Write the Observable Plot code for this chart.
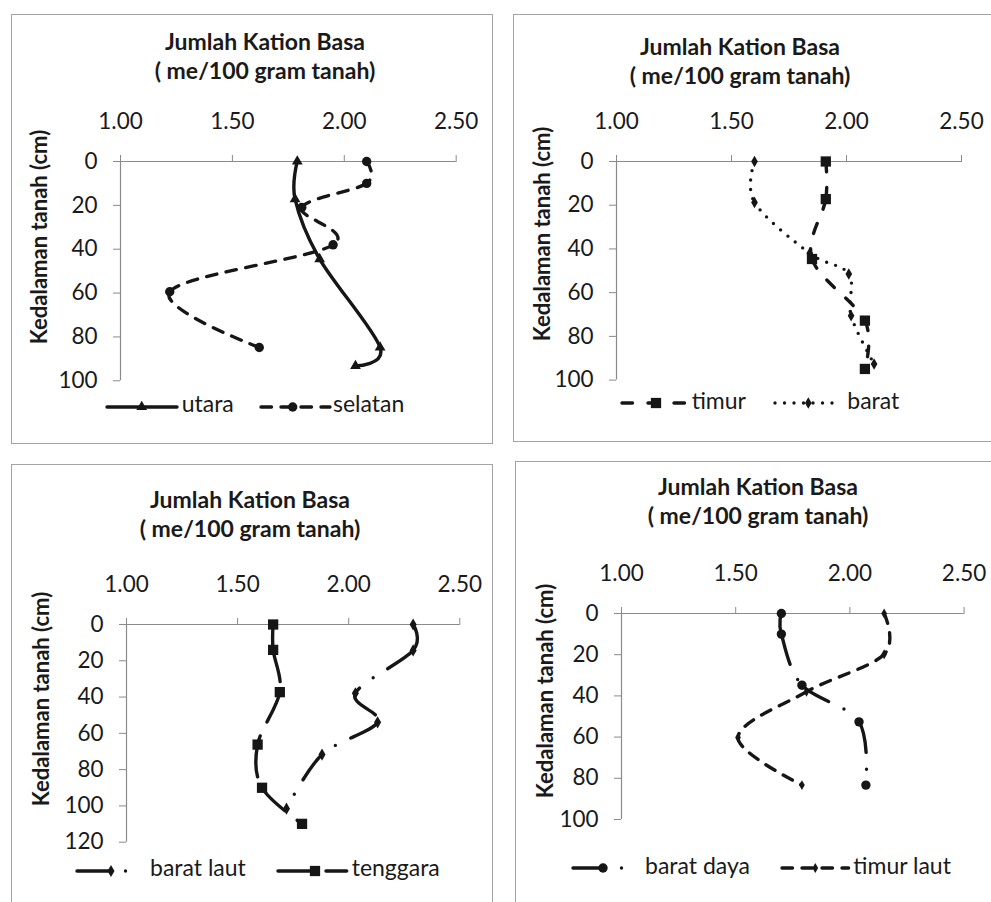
<!DOCTYPE html>
<html><head><meta charset="utf-8">
<script src="https://cdn.jsdelivr.net/npm/d3@7"></script>
<script src="https://cdn.jsdelivr.net/npm/@observablehq/plot@0.6"></script>
<style>
body{margin:0;background:#fff;font-family:Lato,"Open Sans",sans-serif;color:#1a1a1a;}
#page{position:relative;width:991px;height:902px;overflow:hidden;background:#fff;}
.frame{position:absolute;border:1.5px solid #a3a3a3;box-sizing:border-box;}
.title{position:absolute;font-weight:bold;font-size:23px;line-height:29px;white-space:nowrap;transform:translateX(-50%);}
.ylab{position:absolute;font-weight:bold;font-size:22px;line-height:22px;white-space:nowrap;transform:translate(-50%,-50%) rotate(-90deg);}
.ltext{position:absolute;font-size:23px;line-height:29px;white-space:nowrap;}
.abs{position:absolute;overflow:visible;}
</style></head>
<body><div id="page"></div>
<script>
// ---- data ----
const xTicks = [1.0, 1.5, 2.0, 2.5];
const yTicks100 = [0, 20, 40, 60, 80, 100];
const yTicks120 = [0, 20, 40, 60, 80, 100, 120];
const titleLine1 = "Jumlah Kation Basa";
const titleLine2 = "( me/100 gram tanah)";
const yLabel = "Kedalaman tanah (cm)";

const utaraDepth = [0, 17.2, 44.5, 84.8, 93.2];
const utaraValue = [1.79, 1.78, 1.89, 2.16, 2.05];
const selatanDepth = [0, 10, 21, 38, 59.4, 84.8];
const selatanValue = [2.10, 2.10, 1.81, 1.95, 1.22, 1.62];

const timurDepth = [0, 17.2, 44.6, 72.8, 94.9];
const timurValue = [1.91, 1.91, 1.85, 2.08, 2.08];
const baratDepth = [0, 18.7, 42, 51.5, 70.6, 92.6];
const baratValue = [1.60, 1.60, 1.84, 2.01, 2.02, 2.12];

const baratLautDepth = [0, 14.3, 37.9, 53.9, 71.7, 101.5];
const baratLautValue = [2.29, 2.29, 2.03, 2.13, 1.88, 1.72];
const tenggaraDepth = [0, 14, 37.3, 66.2, 90, 109.9];
const tenggaraValue = [1.66, 1.66, 1.69, 1.59, 1.61, 1.79];

const baratDayaDepth = [0, 10, 34.8, 52.6, 83.3];
const baratDayaValue = [1.70, 1.70, 1.79, 2.04, 2.07];
const timurLautDepth = [0, 19.8, 38, 60.2, 83.3];
const timurLautValue = [2.15, 2.15, 1.81, 1.51, 1.79];

// ---- styles ----
const INK = "#161616";
const AXIS = "#8a8a8a";
const SOLID = {dash: null, cap: "round"};
const DASH = {dash: "10.5,9.5", cap: "round"};
const DASH_WIDE = {dash: "10.5,15.5", cap: "round"};
const LONGDASH = {dash: "32.5,15.5", cap: "round"};
const LONGDASHDOT = {dash: "31.5,17,0,17", cap: "round"};
const ROUNDDOT = {dash: "0,9.5", cap: "round"};

const rows = (depth, value) => depth.map((d, i) => ({d, v: value[i]}));

const panels = [
  {frame: [11, 14, 482, 430], px: [120, 455.7, 160.7, 380], yMax: 100, yTicks: yTicks100,
   titleX: 265, titleY: 50, ylab: [39, 237], legendY: 406.7,
   series: [
     {name: "utara", data: rows(utaraDepth, utaraValue), style: SOLID, symbol: "triangle", r: 4,
      sw: [107, 177], mx: 141.7, tx: 181.7},
     {name: "selatan", data: rows(selatanDepth, selatanValue), style: DASH, symbol: "circle", r: 4.7,
      sw: [261, 330], mx: 292.7, tx: 333}
   ]},
  {frame: [513, 13.5, 490, 428.5], px: [616, 961, 160.7, 379.3], yMax: 100, yTicks: yTicks100,
   titleX: 740, titleY: 55, ylab: [542.3, 234], legendY: 403.3,
   series: [
     {name: "timur", data: rows(timurDepth, timurValue), style: DASH_WIDE, symbol: "square", r: 5.8,
      sw: [621.7, 688], mx: 655.7, tx: 691.7},
     {name: "barat", data: rows(baratDepth, baratValue), style: ROUNDDOT, symbol: "diamond", r: 3.5,
      sw: [775, 836.7], mx: 808.3, tx: 847.3}
   ]},
  {frame: [11, 464, 482, 450], px: [126, 459.3, 624, 841.7], yMax: 120, yTicks: yTicks120,
   titleX: 250, titleY: 508.3, ylab: [40.7, 699], legendY: 870.7,
   series: [
     {name: "barat laut", data: rows(baratLautDepth, baratLautValue), style: LONGDASHDOT, symbol: "diamond", r: 3.7,
      sw: [76.7, 135], mx: 110.7, tx: 150},
     {name: "tenggara", data: rows(tenggaraDepth, tenggaraValue), style: LONGDASH, symbol: "square", r: 5.8,
      sw: [278, 346.7], mx: 315, tx: 351.7}
   ]},
  {frame: [515, 461, 490, 450], px: [620.7, 963.3, 613.3, 819.3], yMax: 100, yTicks: yTicks100,
   titleX: 758, titleY: 495, ylab: [545, 690.5], legendY: 868.3,
   series: [
     {name: "barat daya", data: rows(baratDayaDepth, baratDayaValue), style: LONGDASHDOT, symbol: "circle", r: 4.7,
      sw: [573.3, 628.3], mx: 603.3, tx: 645},
     {name: "timur laut", data: rows(timurLautDepth, timurLautValue), style: DASH, symbol: "diamond", r: 3,
      sw: [781.7, 848.3], mx: 815, tx: 853.3}
   ]}
];

const page = document.getElementById("page");
const TXT_BASE = 23.4; // baseline offset from box top for 23px text, 29px line-height

// split dashed smooth paths at every data vertex so the dash pattern restarts per segment
function splitSegments(svg) {
  svg.querySelectorAll('g[aria-label="line"]').forEach(g => {
    if (!g.getAttribute("stroke-dasharray")) return;
    [...g.querySelectorAll("path")].forEach(p => {
      const d = p.getAttribute("d");
      const cmds = d.match(/[MLC][^MLC]*/g) || [];
      let prev = null;
      for (const c of cmds) {
        const nums = c.slice(1).split(/[\s,]+/).filter(s => s.length).map(Number);
        if (c[0] !== "M" && prev) {
          const q = p.cloneNode();
          q.setAttribute("d", `M${prev[0]},${prev[1]}${c}`);
          g.appendChild(q);
        }
        prev = nums.slice(-2);
      }
      p.remove();
    });
  });
}

function symbolPath(symbol, r) {
  const map = {circle: d3.symbolCircle, square: d3.symbolSquare, diamond: d3.symbolDiamond, triangle: d3.symbolTriangle};
  return d3.symbol(map[symbol], Math.PI * r * r)();
}

for (const P of panels) {
  const [fx, fy, fw, fh] = P.frame;
  const fr = document.createElement("div");
  fr.className = "frame";
  Object.assign(fr.style, {left: fx + "px", top: fy + "px", width: fw + "px", height: fh + "px"});
  page.appendChild(fr);

  [[titleLine1, P.titleY], [titleLine2, P.titleY + 29]].forEach(([t, b]) => {
    const el = document.createElement("div");
    el.className = "title";
    el.textContent = t;
    Object.assign(el.style, {left: P.titleX + "px", top: (b - TXT_BASE) + "px"});
    page.appendChild(el);
  });

  const yl = document.createElement("div");
  yl.className = "ylab";
  yl.textContent = yLabel;
  Object.assign(yl.style, {left: P.ylab[0] + "px", top: P.ylab[1] + "px"});
  page.appendChild(yl);

  const [x1, x2, y0, y1] = P.px;
  const mL = 100, mR = 30, mT = 70, mB = 20;
  const width = (x2 - x1) + mL + mR;
  const height = (y1 - y0) + mT + mB;
  const marks = [
    Plot.ruleY([0], {stroke: AXIS, strokeWidth: 1.2}),
    Plot.ruleX([1], {stroke: AXIS, strokeWidth: 1.2}),
    Plot.axisX({anchor: "top", ticks: xTicks, tickFormat: d => d.toFixed(2), tickSize: 7, tickPadding: 25,
                stroke: AXIS, label: null}),
    Plot.axisY({anchor: "left", ticks: P.yTicks, tickFormat: d => String(d), tickSize: 7, tickPadding: 16,
                stroke: AXIS, label: null})
  ];
  for (const s of P.series) {
    marks.push(Plot.line(s.data, {x: "v", y: "d", curve: "cardinal", stroke: INK, strokeWidth: 3.4,
      strokeDasharray: s.style.dash || undefined, strokeLinecap: s.style.cap, strokeLinejoin: "round"}));
  }
  for (const s of P.series) {
    marks.push(Plot.dot(s.data, {x: "v", y: "d", symbol: s.symbol, r: s.r, fill: INK, stroke: "none"}));
  }
  const svg = Plot.plot({
    width, height, marginLeft: mL, marginRight: mR, marginTop: mT, marginBottom: mB,
    x: {domain: [1, 2.5]},
    y: {domain: [0, P.yMax], reverse: true},
    style: {background: "transparent", overflow: "visible", fontFamily: "Lato", fontSize: "22.5px",
            color: "#1a1a1a", maxWidth: "none"},
    marks
  });
  splitSegments(svg);
  svg.classList.add("abs");
  svg.style.position = "absolute";
  svg.style.left = (x1 - mL) + "px";
  svg.style.top = (y0 - mT) + "px";
  page.appendChild(svg);

  for (const s of P.series) {
    const [a, b] = s.sw;
    const ls = d3.create("svg").attr("class", "abs").attr("width", b - a + 12).attr("height", 20)
      .style("left", (a - 6) + "px").style("top", (P.legendY - 10) + "px");
    ls.append("line").attr("x1", 6).attr("x2", b - a + 6).attr("y1", 10).attr("y2", 10)
      .attr("stroke", INK).attr("stroke-width", 3.4).attr("stroke-linecap", s.style.cap)
      .attr("stroke-dasharray", s.style.dash);
    ls.append("path").attr("d", symbolPath(s.symbol, s.r))
      .attr("transform", `translate(${s.mx - a + 6},10)`).attr("fill", INK);
    page.appendChild(ls.node());
    const t = document.createElement("div");
    t.className = "ltext";
    t.textContent = s.name;
    Object.assign(t.style, {left: s.tx + "px", top: (P.legendY + 6 - TXT_BASE) + "px"});
    page.appendChild(t);
  }
}
</script>
</body></html>
